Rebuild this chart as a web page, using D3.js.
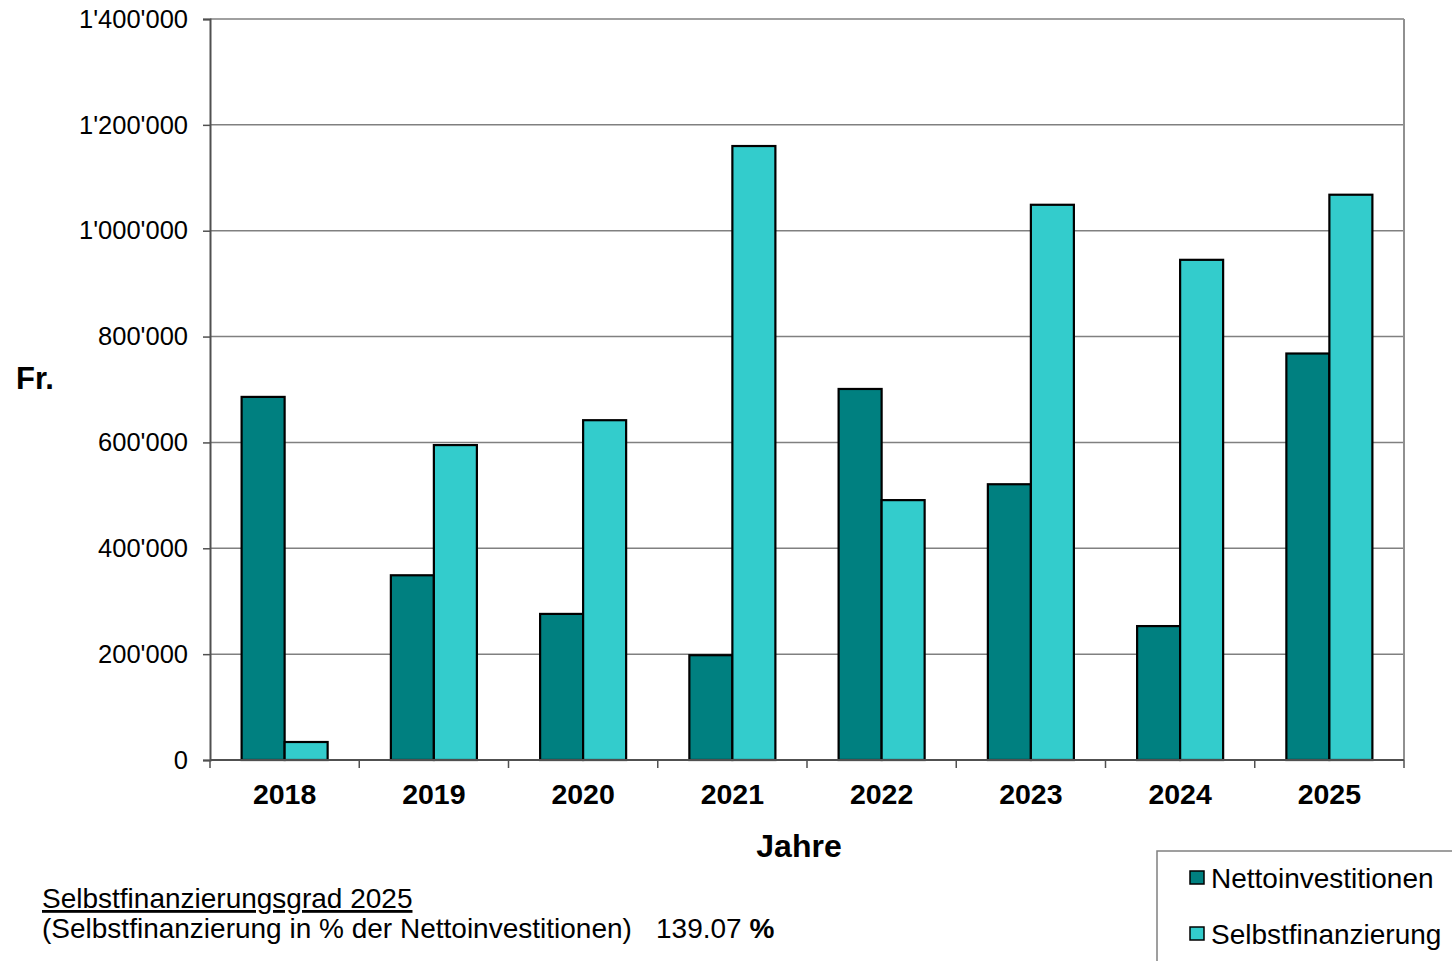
<!DOCTYPE html>
<html>
<head>
<meta charset="utf-8">
<script src="https://cdn.jsdelivr.net/npm/d3@7"></script>
<style>
  html, body { margin: 0; padding: 0; background: #fff; }
  svg { display: block; font-family: "Liberation Sans", Arial, sans-serif; }
</style>
</head>
<body>
<svg id="chart" width="1452" height="961"></svg>
<script>
// Chart data
const years = ['2018', '2019', '2020', '2021', '2022', '2023', '2024', '2025'];
const seriesNames = ['Nettoinvestitionen', 'Selbstfinanzierung'];
const nettoinvestitionen = [686000, 349000, 276000, 198000, 701000, 521000, 253000, 768000];
const selbstfinanzierung = [34000, 595000, 642000, 1160000, 491000, 1049000, 945000, 1068000];
const yTicks = [0, 200000, 400000, 600000, 800000, 1000000, 1200000, 1400000];
const seriesColors = ['#008080', '#33CCCC'];

const svg = d3.select('#chart');
const plotLeft = 210, plotRight = 1404, plotTop = 19, plotBottom = 760;

const fmt = d3.formatLocale({ decimal: '.', thousands: "'", grouping: [3], currency: ['', ''] }).format(',');

const x = d3.scaleBand().domain(years).range([plotLeft, plotRight]).paddingInner(0).paddingOuter(0);
const x1 = d3.scaleBand().domain(seriesNames).range([0, x.bandwidth()]).paddingInner(0).paddingOuter(0.735);
const y = d3.scaleLinear().domain([0, 1400000]).range([plotBottom, plotTop]);

// gridlines + frame
svg.append('g').selectAll('line')
  .data(yTicks.filter((t) => t > 0))
  .join('line')
  .attr('x1', plotLeft).attr('x2', plotRight)
  .attr('y1', (d) => y(d)).attr('y2', (d) => y(d))
  .attr('stroke', '#808080').attr('stroke-width', 1.5);
svg.append('line')
  .attr('x1', plotRight).attr('x2', plotRight).attr('y1', plotTop).attr('y2', plotBottom)
  .attr('stroke', '#909090').attr('stroke-width', 2);

// bars
const rows = years.map((yr, i) => ({ year: yr, values: [nettoinvestitionen[i], selbstfinanzierung[i]] }));
svg.append('g').selectAll('g')
  .data(rows)
  .join('g')
  .attr('transform', (d) => `translate(${x(d.year)},0)`)
  .selectAll('rect')
  .data((d) => d.values.map((v, k) => ({ name: seriesNames[k], value: v, k })))
  .join('rect')
  .attr('x', (d) => x1(d.name))
  .attr('y', (d) => y(d.value))
  .attr('width', x1.bandwidth())
  .attr('height', (d) => y(0) - y(d.value))
  .attr('fill', (d) => seriesColors[d.k])
  .attr('stroke', '#000').attr('stroke-width', 2.2);

// y axis
const yAxis = svg.append('g')
  .attr('transform', `translate(${plotLeft},0)`)
  .call(d3.axisLeft(y).tickValues(yTicks).tickFormat(fmt).tickSize(7).tickPadding(15));
yAxis.select('.domain').attr('stroke', '#505050').attr('stroke-width', 2);
yAxis.selectAll('.tick line').attr('stroke', '#505050').attr('stroke-width', 1.5);
yAxis.selectAll('.tick text').attr('font-size', 25.5).attr('fill', '#000')
  .attr('font-family', '"Liberation Sans", Arial, sans-serif');

// x axis
const boundaries = years.map((yr) => x(yr)).concat([plotRight]);
const xAxisG = svg.append('g');
xAxisG.append('line')
  .attr('x1', plotLeft).attr('x2', plotRight).attr('y1', plotBottom).attr('y2', plotBottom)
  .attr('stroke', '#505050').attr('stroke-width', 2);
xAxisG.selectAll('line.tk')
  .data(boundaries)
  .join('line')
  .attr('class', 'tk')
  .attr('x1', (d) => d).attr('x2', (d) => d)
  .attr('y1', plotBottom).attr('y2', plotBottom + 8)
  .attr('stroke', '#505050').attr('stroke-width', 1.5);
xAxisG.selectAll('text')
  .data(years)
  .join('text')
  .attr('x', (d) => x(d) + x.bandwidth() / 2)
  .attr('y', 804)
  .attr('text-anchor', 'middle')
  .attr('font-size', 28.5).attr('font-weight', 'bold')
  .text((d) => d);

// axis titles
svg.append('text').attr('x', 799).attr('y', 857).attr('text-anchor', 'middle')
  .attr('font-size', 32).attr('font-weight', 'bold').text('Jahre');
svg.append('text').attr('x', 16).attr('y', 389)
  .attr('font-size', 31).attr('font-weight', 'bold').text('Fr.');

// legend
svg.append('rect').attr('x', 1157).attr('y', 851).attr('width', 320).attr('height', 140)
  .attr('fill', '#fff').attr('stroke', '#808080').attr('stroke-width', 1.5);
const leg = svg.append('g').selectAll('g')
  .data(seriesNames)
  .join('g')
  .attr('transform', (d, i) => `translate(1190,${871 + i * 56})`);
leg.append('rect').attr('width', 14).attr('height', 13)
  .attr('fill', (d, i) => seriesColors[i]).attr('stroke', '#000').attr('stroke-width', 1.5);
leg.append('text').attr('x', 21).attr('y', 17).attr('font-size', 28).text((d) => d);

// Selbstfinanzierungsgrad note
svg.append('text').attr('x', 42).attr('y', 908).attr('font-size', 28)
  .attr('text-decoration', 'underline').text('Selbstfinanzierungsgrad 2025');
svg.append('text').attr('x', 42).attr('y', 938).attr('font-size', 28)
  .text('(Selbstfinanzierung in % der Nettoinvestitionen)');
svg.append('text').attr('x', 656).attr('y', 938).attr('font-size', 28).text('139.07')
  .append('tspan').attr('font-weight', 'bold').text(' %');
</script>
</body>
</html>
